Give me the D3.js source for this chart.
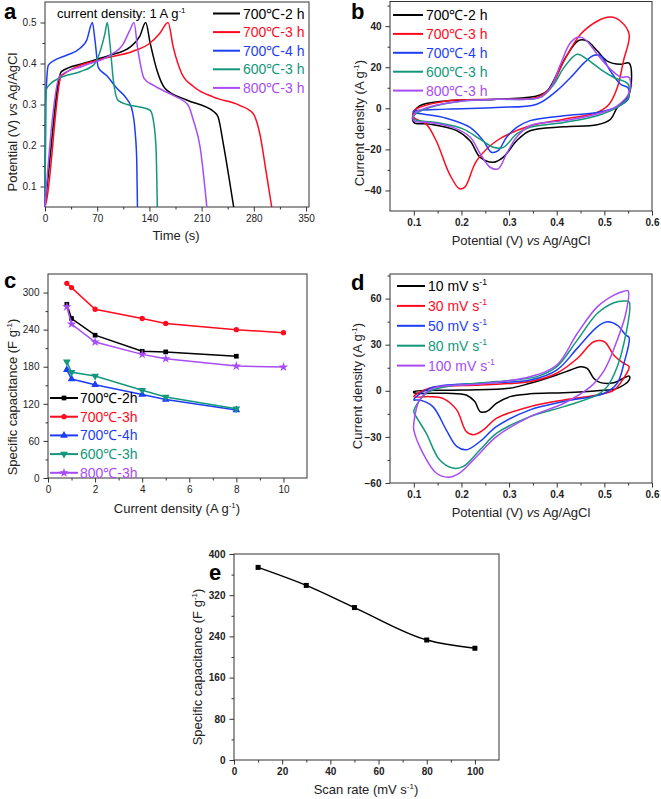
<!DOCTYPE html>
<html><head><meta charset="utf-8">
<script src="https://cdn.jsdelivr.net/npm/d3@7"></script>
<style>
body{margin:0;background:#fff}
text{font-family:Arial,"Liberation Sans",sans-serif}
</style></head><body>
<script>
// ---------- data ----------
const colors = ["#000000", "#ff0a1e", "#1e3ef5", "#13977b", "#a84cf5"]
const annealLabels = ["700℃-2 h", "700℃-3 h", "700℃-4 h", "600℃-3 h", "800℃-3 h"]
const annealLabelsC = ["700℃-2h", "700℃-3h", "700℃-4h", "600℃-3h", "800℃-3h"]
const scanLabels = ["10", "30", "50", "80", "100"]

// (a) charge / discharge at 1 A g-1 : [time s, potential V]
const gcd700_2 = [[0,0.05],[4.5,0.13],[22,0.38],[51,0.40],[87,0.42],[114,0.44],[127,0.466],[135,0.5],[141,0.45],[150,0.384],[161,0.339],[190,0.311],[226,0.283],[232,0.27],[239,0.205],[248,0.107],[253,0.05]]
const gcd700_3 = [[0,0.05],[2,0.065],[22,0.37],[74,0.41],[118,0.43],[141,0.45],[154,0.474],[165,0.5],[172,0.44],[183,0.377],[199,0.344],[226,0.318],[261,0.298],[279,0.278],[288,0.229],[297,0.13],[304,0.05]]
const gcd700_4 = [[0,0.05],[0.8,0.3],[2,0.35],[4.5,0.396],[13,0.408],[29,0.42],[47,0.437],[56,0.457],[63.5,0.5],[67,0.457],[71.5,0.39],[83,0.37],[96,0.34],[107,0.32],[116,0.292],[121,0.23],[123,0.165],[124,0.05]]
const gcd600_3 = [[0,0.05],[1,0.3],[2,0.338],[7,0.35],[20,0.365],[47,0.38],[65,0.396],[74,0.43],[80.5,0.474],[83.5,0.5],[87,0.45],[91.6,0.36],[98,0.31],[110,0.3],[127,0.294],[141,0.286],[146,0.253],[149,0.188],[150.6,0.05]]
const gcd800_3 = [[0,0.05],[2,0.1],[20,0.37],[51,0.394],[87,0.42],[105,0.448],[114,0.482],[119.4,0.5],[124,0.44],[133,0.363],[145,0.347],[172,0.322],[192,0.298],[199,0.261],[208,0.196],[217,0.05]]
const gcdSeries = [gcd700_2, gcd700_3, gcd700_4, gcd600_3, gcd800_3]

// (b) CV loops of the samples : [potential V, current A g-1]
const cv700_2 = [[0.1,-2],[0.112,1.2],[0.168,3.6],[0.274,4.4],[0.358,6],[0.38,8.5],[0.4,16.5],[0.422,26],[0.446,33],[0.464,32.7],[0.485,28],[0.506,23],[0.534,21.4],[0.552,22],[0.552,6.9],[0.527,0.4],[0.513,-5.3],[0.485,-8],[0.415,-9],[0.344,-10.9],[0.316,-15.8],[0.288,-23.8],[0.267,-26.3],[0.239,-23.8],[0.218,-15.8],[0.19,-10.9],[0.133,-7.7],[0.1,-6.9]]
const cv700_3 = [[0.1,-1.2],[0.168,3.6],[0.274,4.4],[0.358,5.3],[0.387,10],[0.415,23],[0.45,36],[0.485,42.4],[0.513,44.4],[0.534,42.4],[0.552,36],[0.54,23],[0.527,10],[0.51,2],[0.485,-2],[0.415,-5.3],[0.344,-8.5],[0.274,-15.8],[0.232,-25.5],[0.207,-38.4],[0.196,-39.2],[0.175,-32],[0.147,-15.8],[0.126,-7.7],[0.105,-5.3],[0.1,-4.4]]
const cv700_4 = [[0.1,-1.5],[0.168,-0.4],[0.274,0.4],[0.358,2],[0.4,8.5],[0.429,15],[0.457,22],[0.478,25.8],[0.492,25.5],[0.513,18],[0.534,11.7],[0.55,9.8],[0.55,4.4],[0.527,0.7],[0.485,-2],[0.415,-3.6],[0.344,-6],[0.316,-9.3],[0.295,-14],[0.277,-20.6],[0.263,-21.4],[0.246,-15.8],[0.218,-9.3],[0.168,-4.8],[0.119,-2.8],[0.1,-2]]
const cv600_3 = [[0.1,-3.6],[0.133,0.4],[0.203,3.6],[0.274,4.4],[0.365,5.3],[0.394,11.7],[0.415,19.8],[0.443,26.3],[0.464,23.8],[0.492,19],[0.52,15],[0.55,11.7],[0.55,5.3],[0.527,0.4],[0.485,-3.6],[0.415,-6.9],[0.344,-9.3],[0.316,-12.5],[0.288,-19],[0.267,-19],[0.239,-15],[0.203,-10],[0.147,-6.9],[0.1,-5.3]]
const cv800_3 = [[0.1,-2.8],[0.133,0.7],[0.203,3.6],[0.274,4.4],[0.365,5.3],[0.387,10],[0.408,21.4],[0.429,32],[0.446,34.7],[0.46,33.5],[0.485,26.3],[0.513,19],[0.534,15.3],[0.552,15],[0.552,7.7],[0.527,1.2],[0.485,-2.8],[0.415,-6],[0.344,-8.5],[0.316,-14],[0.295,-22],[0.277,-29.5],[0.26,-28.7],[0.239,-22],[0.218,-14],[0.182,-9.3],[0.133,-6.9],[0.1,-6]]
const cvSeries = [cv700_2, cv700_3, cv700_4, cv600_3, cv800_3]

// (c) rate capability : current density A g-1 -> capacitance F g-1
const rateX = [0.8, 1, 2, 4, 5, 8, 10]
const cap700_2 = [281, 258, 231, 205, 204, 197]
const cap700_3 = [315, 308, 273, 258, 250, 240, 235]
const cap700_4 = [175, 160, 151, 135, 127, 110]
const cap600_3 = [188, 171, 165, 142, 131, 112]
const cap800_3 = [277, 249, 220, 200, 193, 181, 179.5]
const capSeries = [cap700_2, cap700_3, cap700_4, cap600_3, cap800_3]

// (d) CV of the 700℃-3 h sample at several scan rates
const cvRate10 = [[0.1,-0.5],[0.2,0.5],[0.3,1.6],[0.344,4.9],[0.4,10.3],[0.429,13.5],[0.45,15.7],[0.464,14.6],[0.478,8],[0.492,5.3],[0.52,5.3],[0.552,9.6],[0.552,7],[0.527,1.6],[0.485,0.1],[0.415,-1.2],[0.344,-2],[0.302,-3.8],[0.274,-8.1],[0.253,-13.5],[0.239,-13.5],[0.228,-7],[0.21,-2.7],[0.168,-1.6],[0.1,-1.2]]
const cvRate30 = [[0.1,-3.8],[0.133,1.6],[0.239,3.8],[0.344,6],[0.4,11.4],[0.443,21],[0.478,31.9],[0.5,31.9],[0.52,23.2],[0.541,17.8],[0.552,15.7],[0.54,8],[0.52,0.5],[0.485,-2.7],[0.415,-6],[0.344,-10.3],[0.274,-17.8],[0.246,-25.4],[0.225,-28.6],[0.21,-26.5],[0.19,-12.4],[0.161,-4.9],[0.133,-3.8]]
const cvRate50 = [[0.1,-6],[0.133,1.6],[0.239,4.9],[0.344,7],[0.4,13.5],[0.443,27.6],[0.485,41.6],[0.506,44.9],[0.527,42.7],[0.545,36.2],[0.552,34.7],[0.541,17.8],[0.527,4.9],[0.5,-1.6],[0.415,-7],[0.344,-12.4],[0.274,-23.2],[0.239,-33],[0.21,-38.4],[0.19,-36.2],[0.168,-25.4],[0.14,-10.3],[0.112,-6]]
const cvRate80 = [[0.1,-13.5],[0.126,-1.6],[0.168,2.7],[0.274,6],[0.358,9.2],[0.4,15.7],[0.443,33],[0.485,50.3],[0.52,57.3],[0.541,58.4],[0.552,57.8],[0.541,30.8],[0.527,15.7],[0.506,2.7],[0.485,-2.7],[0.415,-10.3],[0.344,-16.8],[0.274,-27.6],[0.239,-38.4],[0.204,-49.2],[0.182,-50.3],[0.154,-44.9],[0.126,-27.6],[0.105,-16.8]]
const cvRate100 = [[0.1,-21],[0.112,-6],[0.14,1.6],[0.239,4.4],[0.344,9.2],[0.4,16.8],[0.443,37.3],[0.485,54.6],[0.52,62.2],[0.541,64.8],[0.55,65],[0.545,50.3],[0.527,33],[0.5,13.5],[0.471,2.7],[0.415,-8.1],[0.344,-16.8],[0.274,-29.7],[0.232,-42.7],[0.196,-53.5],[0.172,-56.2],[0.147,-53.5],[0.119,-40.5],[0.1,-25.4]]
const cvRateSeries = [cvRate10, cvRate30, cvRate50, cvRate80, cvRate100]

// (e) capacitance vs scan rate
const scanRate = [10, 30, 50, 80, 100]
const scanCap = [374, 339, 296, 233, 217]

// ---------- drawing ----------
const svg = d3.select("body").append("svg").attr("width", 661).attr("height", 799)

// text with italic / superscript parts: parts = [["Potential (V) "],["vs","i"],[" Ag"]]
function rich(sel, parts, size) {
    parts.forEach(([t, k]) => {
        const ts = sel.append("tspan").text(t)
        if (k === "i") ts.style("font-style", "italic")
        if (k === "sup") ts.attr("dy", -size * 0.42).style("font-size", (size * 0.62) + "px")
        if (k === "after") ts.attr("dy", size * 0.42)
    })
    return sel
}

function panel(o) {
    const g = svg.append("g")
    const x = d3.scaleLinear().domain(o.xDomain).range([o.l, o.r])
    const y = d3.scaleLinear().domain(o.yDomain).range([o.b, o.t])
    const fw = o.bold ? "bold" : "normal"

    const axes = [
        [d3.axisBottom(x).tickValues(o.xMinor).tickSize(2.5).tickFormat(""), `translate(0,${o.b})`],
        [d3.axisLeft(y).tickValues(o.yMinor).tickSize(2.5).tickFormat(""), `translate(${o.l},0)`],
        [d3.axisBottom(x).tickValues(o.xTicks).tickSize(4.5).tickPadding(3).tickFormat(o.xFmt), `translate(0,${o.b})`],
        [d3.axisLeft(y).tickValues(o.yTicks).tickSize(4.5).tickPadding(4).tickFormat(o.yFmt), `translate(${o.l},0)`]
    ]
    axes.forEach(([ax, tr]) => {
        const a = g.append("g").attr("transform", tr).call(ax)
        a.select(".domain").remove()
        a.selectAll("line").attr("stroke", "#333")
        a.selectAll("text").style("font-size", "10px").style("font-weight", fw)
            .style("font-family", "Arial,'Liberation Sans',sans-serif").attr("fill", "#222")
    })

    g.append("rect")
        .attr("x", o.l).attr("y", o.t)
        .attr("width", o.r - o.l).attr("height", o.b - o.t)
        .attr("fill", "none").attr("stroke", "#333").attr("stroke-width", 1)

    // titles
    rich(g.append("text").attr("x", o.xTitlePos[0]).attr("y", o.xTitlePos[1])
        .attr("text-anchor", "middle").style("font-size", "13px").attr("fill", "#222"), o.xTitle, 13)
    rich(g.append("text")
        .attr("transform", `translate(${o.yTitlePos[0]},${o.yTitlePos[1]}) rotate(-90)`)
        .attr("text-anchor", "middle").style("font-size", "13px").attr("fill", "#222"), o.yTitle, 13)

    g.append("text").attr("x", o.tag[0]).attr("y", o.tag[1])
        .style("font-size", "22px").style("font-weight", "bold").text(o.tagText)

    return { g, x, y }
}

const potTitle = [["Potential (V) "], ["vs", "i"], [" Ag/AgCl"]]
const curTitle = [["Current density (A g"], ["-1", "sup"], [")", "after"]]
const capTitle = [["Specific capacitance (F g"], ["-1", "sup"], [")", "after"]]
const f1 = d3.format(".1f")

// ----- panel a -----
{
    const p = panel({
        l: 45, r: 309, t: 2, b: 207,
        xDomain: [0, 354], yDomain: [0.05, 0.55],
        xTicks: [0, 70, 140, 210, 280, 350], xMinor: [35, 105, 175, 245, 315],
        yTicks: [0.1, 0.2, 0.3, 0.4, 0.5], yMinor: [0.15, 0.25, 0.35, 0.45],
        xFmt: d3.format("d"), yFmt: f1,
        xTitle: [["Time (s)"]], xTitlePos: [176, 240],
        yTitle: potTitle, yTitlePos: [17, 122],
        tag: [4, 19], tagText: "a"
    })
    const line = d3.line().x(d => p.x(d[0])).y(d => p.y(d[1])).curve(d3.curveMonotoneX)
    p.g.selectAll(".gcd").data(gcdSeries).join("path")
        .attr("class", "gcd")
        .attr("d", line)
        .attr("fill", "none")
        .attr("stroke", (d, i) => colors[i])
        .attr("stroke-width", 1.5)

    rich(p.g.append("text").attr("x", 57).attr("y", 18).style("font-size", "13px"),
        [["current density: 1 A g"], ["-1", "sup"]], 13)

    annealLabels.forEach((lab, i) => {
        const yy = 13.5 + i * 18.6
        p.g.append("line").attr("x1", 213).attr("x2", 240).attr("y1", yy).attr("y2", yy)
            .attr("stroke", colors[i]).attr("stroke-width", 2)
        p.g.append("text").attr("x", 243).attr("y", yy + 5).style("font-size", "14px")
            .attr("fill", colors[i]).text(lab)
    })
}

// ----- panel b -----
{
    const p = panel({
        l: 390, r: 652, t: 1.5, b: 211,
        xDomain: [0.05, 0.6], yDomain: [-50, 52],
        xTicks: [0.1, 0.2, 0.3, 0.4, 0.5, 0.6], xMinor: [0.15, 0.25, 0.35, 0.45, 0.55],
        yTicks: [-40, -20, 0, 20, 40], yMinor: [-30, -10, 10, 30, 50],
        xFmt: f1, yFmt: d3.format("d"), bold: true,
        xTitle: potTitle, xTitlePos: [521, 245],
        yTitle: curTitle, yTitlePos: [364, 123],
        tag: [351, 19], tagText: "b"
    })
    const line = d3.line().x(d => p.x(d[0])).y(d => p.y(d[1])).curve(d3.curveCatmullRomClosed.alpha(0.5))
    p.g.selectAll(".cv").data(cvSeries).join("path")
        .attr("class", "cv")
        .attr("d", line)
        .attr("fill", "none")
        .attr("stroke", (d, i) => colors[i])
        .attr("stroke-width", 1.5)

    annealLabels.forEach((lab, i) => {
        const yy = 15 + i * 18.9
        p.g.append("line").attr("x1", 393).attr("x2", 423).attr("y1", yy).attr("y2", yy)
            .attr("stroke", colors[i]).attr("stroke-width", 2)
        p.g.append("text").attr("x", 426).attr("y", yy + 5).style("font-size", "14px")
            .attr("fill", colors[i]).text(lab)
    })
}

// ----- panel c -----
const markers = [
    { type: d3.symbolSquare, size: 22, rot: 0 },
    { type: d3.symbolCircle, size: 22, rot: 0 },
    { type: d3.symbolTriangle, size: 26, rot: 0 },
    { type: d3.symbolTriangle, size: 26, rot: 180 },
    { type: d3.symbolStar, size: 28, rot: 0 }
]
{
    const p = panel({
        l: 48, r: 307, t: 274, b: 478,
        xDomain: [0, 11], yDomain: [0, 330],
        xTicks: [0, 2, 4, 6, 8, 10], xMinor: [1, 3, 5, 7, 9],
        yTicks: [0, 60, 120, 180, 240, 300], yMinor: [30, 90, 150, 210, 270],
        xFmt: d3.format("d"), yFmt: d3.format("d"),
        xTitle: curTitle, xTitlePos: [177, 513],
        yTitle: capTitle, yTitlePos: [17, 397],
        tag: [4, 288], tagText: "c"
    })
    const line = d3.line().x(d => p.x(d[0])).y(d => p.y(d[1]))
    capSeries.forEach((vals, i) => {
        const pts = vals.map((v, j) => [rateX[j], v])
        p.g.append("path").attr("d", line(pts)).attr("fill", "none")
            .attr("stroke", colors[i]).attr("stroke-width", 1.5)
        p.g.selectAll(null).data(pts).join("path")
            .attr("transform", d => `translate(${p.x(d[0])},${p.y(d[1])}) rotate(${markers[i].rot})`)
            .attr("d", d3.symbol(markers[i].type, markers[i].size))
            .attr("fill", colors[i])
    })
    annealLabelsC.forEach((lab, i) => {
        const yy = 398 + i * 18.7
        p.g.append("line").attr("x1", 50).attr("x2", 78).attr("y1", yy).attr("y2", yy)
            .attr("stroke", colors[i]).attr("stroke-width", 2)
        p.g.append("path").attr("transform", `translate(64,${yy}) rotate(${markers[i].rot})`)
            .attr("d", d3.symbol(markers[i].type, markers[i].size)).attr("fill", colors[i])
        p.g.append("text").attr("x", 80).attr("y", yy + 5).style("font-size", "14px")
            .attr("fill", colors[i]).text(lab)
    })
}

// ----- panel d -----
{
    const p = panel({
        l: 390, r: 652, t: 274, b: 483,
        xDomain: [0.05, 0.6], yDomain: [-60, 76],
        xTicks: [0.1, 0.2, 0.3, 0.4, 0.5, 0.6], xMinor: [0.15, 0.25, 0.35, 0.45, 0.55],
        yTicks: [-60, -30, 0, 30, 60], yMinor: [-45, -15, 15, 45, 75],
        xFmt: f1, yFmt: d3.format("d"), bold: true,
        xTitle: potTitle, xTitlePos: [521, 517],
        yTitle: curTitle, yTitlePos: [362, 386],
        tag: [351, 290], tagText: "d"
    })
    const line = d3.line().x(d => p.x(d[0])).y(d => p.y(d[1])).curve(d3.curveCatmullRomClosed.alpha(0.5))
    p.g.selectAll(".cvr").data(cvRateSeries).join("path")
        .attr("class", "cvr")
        .attr("d", line)
        .attr("fill", "none")
        .attr("stroke", (d, i) => colors[i])
        .attr("stroke-width", 1.5)

    scanLabels.forEach((lab, i) => {
        const yy = 286 + i * 19.9
        p.g.append("line").attr("x1", 397).attr("x2", 425).attr("y1", yy).attr("y2", yy)
            .attr("stroke", colors[i]).attr("stroke-width", 2)
        rich(p.g.append("text").attr("x", 428).attr("y", yy + 5).style("font-size", "14px")
            .attr("fill", colors[i]), [[lab + " mV s"], ["-1", "sup"]], 14)
    })
}

// ----- panel e -----
{
    const p = panel({
        l: 234, r: 499, t: 554, b: 760,
        xDomain: [0, 110], yDomain: [0, 400],
        xTicks: [0, 20, 40, 60, 80, 100], xMinor: [10, 30, 50, 70, 90],
        yTicks: [0, 80, 160, 240, 320, 400], yMinor: [40, 120, 200, 280, 360],
        xFmt: d3.format("d"), yFmt: d3.format("d"), bold: true,
        xTitle: [["Scan rate (mV s"], ["-1", "sup"], [")", "after"]], xTitlePos: [366, 794],
        yTitle: capTitle, yTitlePos: [202, 667],
        tag: [209, 580], tagText: "e"
    })
    const pts = scanRate.map((r, i) => [r, scanCap[i]])
    const line = d3.line().x(d => p.x(d[0])).y(d => p.y(d[1])).curve(d3.curveMonotoneX)
    p.g.append("path").attr("d", line(pts)).attr("fill", "none")
        .attr("stroke", "#000").attr("stroke-width", 1.5)
    p.g.selectAll(".pt").data(pts).join("rect")
        .attr("class", "pt")
        .attr("x", d => p.x(d[0]) - 2.5).attr("y", d => p.y(d[1]) - 2.5)
        .attr("width", 5).attr("height", 5).attr("fill", "#000")
}
</script>
</body></html>
